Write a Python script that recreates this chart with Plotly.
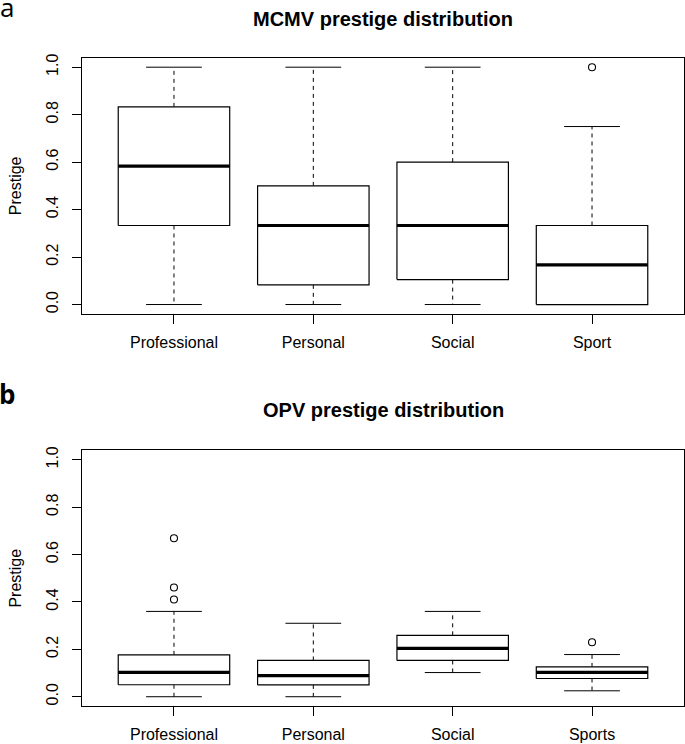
import plotly.graph_objects as go

# ---------------- data ----------------
categories_a = ["Professional", "Personal", "Social", "Sport"]
lower_a = [0.0, 0.0, 0.0, 0.0]
q1_a = [0.333, 0.083, 0.105, 0.0]
median_a = [0.583, 0.333, 0.333, 0.167]
q3_a = [0.833, 0.5, 0.6, 0.333]
upper_a = [1.0, 1.0, 1.0, 0.75]
outliers_a = [[], [], [], [1.0]]

categories_b = ["Professional", "Personal", "Social", "Sports"]
lower_b = [0.0, 0.0, 0.102, 0.025]
q1_b = [0.0505, 0.05, 0.153, 0.077]
median_b = [0.1025, 0.089, 0.204, 0.1025]
q3_b = [0.177, 0.153, 0.259, 0.126]
upper_b = [0.36, 0.31, 0.36, 0.178]
outliers_b = [[0.41, 0.461, 0.669], [], [], [0.23]]

y_ticks = [0.0, 0.2, 0.4, 0.6, 0.8, 1.0]
y_tick_text = ["0.0", "0.2", "0.4", "0.6", "0.8", "1.0"]

BOX_HALF = 0.4
CAP_HALF = 0.2
FONT = "Liberation Sans, Arial, sans-serif"

fig = go.Figure()


def add_panel(cats, lo, q1, med, q3, up, outs, xa, ya):
    bx, by, mx, my, wx, wy, cx, cy, ox, oy = [], [], [], [], [], [], [], [], [], []
    for i in range(len(cats)):
        x = i + 1
        bx += [x - BOX_HALF, x + BOX_HALF, x + BOX_HALF, x - BOX_HALF, x - BOX_HALF, None]
        by += [q1[i], q1[i], q3[i], q3[i], q1[i], None]
        mx += [x - BOX_HALF, x + BOX_HALF, None]
        my += [med[i], med[i], None]
        wx += [x, x, None, x, x, None]
        wy += [q3[i], up[i], None, q1[i], lo[i], None]
        cx += [x - CAP_HALF, x + CAP_HALF, None, x - CAP_HALF, x + CAP_HALF, None]
        cy += [up[i], up[i], None, lo[i], lo[i], None]
        for v in outs[i]:
            ox.append(x)
            oy.append(v)
    common = dict(xaxis=xa, yaxis=ya, showlegend=False, hoverinfo="skip")
    fig.add_trace(go.Scatter(x=wx, y=wy, mode="lines",
                             line=dict(color="black", width=1, dash="4px,4px"), **common))
    fig.add_trace(go.Scatter(x=cx, y=cy, mode="lines",
                             line=dict(color="black", width=1), **common))
    fig.add_trace(go.Scatter(x=bx, y=by, mode="lines", fill="toself", fillcolor="white",
                             line=dict(color="black", width=1.2), **common))
    fig.add_trace(go.Scatter(x=mx, y=my, mode="lines",
                             line=dict(color="black", width=3.2), **common))
    fig.add_trace(go.Scatter(x=ox, y=oy, mode="markers",
                             marker=dict(symbol="circle-open", size=7, color="black",
                                         line=dict(width=1.1)), **common))


add_panel(categories_a, lower_a, q1_a, median_a, q3_a, upper_a, outliers_a, "x", "y")
add_panel(categories_b, lower_b, q1_b, median_b, q3_b, upper_b, outliers_b, "x2", "y2")

xcommon = dict(range=[0.34, 4.66], tickvals=[1, 2, 3, 4], ticks="outside", ticklen=9,
               tickwidth=1, tickcolor="black", showline=True, mirror=True, linecolor="black",
               linewidth=1, showgrid=False, zeroline=False, ticklabelstandoff=5,
               tickfont=dict(family=FONT, size=16, color="black"))
ycommon = dict(range=[-0.04, 1.04], tickvals=y_ticks, ticktext=y_tick_text, ticks="outside",
               ticklen=9, tickwidth=1, tickcolor="black", showline=True, mirror=True,
               linecolor="black", linewidth=1, showgrid=False, zeroline=False,
               tickangle=-90, ticklabelstandoff=8,
               tickfont=dict(family=FONT, size=16, color="black"),
               title=dict(text="Prestige", standoff=17,
                          font=dict(family=FONT, size=16, color="black")))

fig.update_layout(
    width=685, height=744,
    margin=dict(l=0, r=0, t=0, b=0),
    paper_bgcolor="white", plot_bgcolor="white",
    xaxis=dict(domain=[82 / 685, 684 / 685], anchor="y", ticktext=categories_a, **xcommon),
    yaxis=dict(domain=[1 - 311.7 / 744, 1 - 54 / 744], anchor="x", **ycommon),
    xaxis2=dict(domain=[82 / 685, 684 / 685], anchor="y2", ticktext=categories_b, **xcommon),
    yaxis2=dict(domain=[1 - 706 / 744, 1 - 448.7 / 744], anchor="x2", **ycommon),
    annotations=[
        dict(text="<b>MCMV prestige distribution</b>", x=383 / 685, y=1 - 15 / 744,
             xref="paper", yref="paper", xanchor="center", yanchor="middle", showarrow=False,
             font=dict(family=FONT, size=20, color="black")),
        dict(text="<b>OPV prestige distribution</b>", x=383 / 685, y=1 - 408 / 744,
             xref="paper", yref="paper", xanchor="center", yanchor="middle", showarrow=False,
             font=dict(family=FONT, size=20, color="black")),
        dict(text="a", x=0.0, y=1 - 23 / 744, xref="paper", yref="paper",
             xanchor="left", yanchor="bottom", showarrow=False, xshift=-2,
             font=dict(family="Open Sans, sans-serif", size=26, color="black")),
        dict(text="<b>b</b>", x=0.0, y=1 - 412 / 744, xref="paper", yref="paper",
             xanchor="left", yanchor="bottom", showarrow=False, xshift=-3,
             font=dict(family="Open Sans, sans-serif", size=26, color="black")),
    ],
)

fig.write_html("out.html", config={"displayModeBar": False},
               post_script="document.body.style.margin='0';")
